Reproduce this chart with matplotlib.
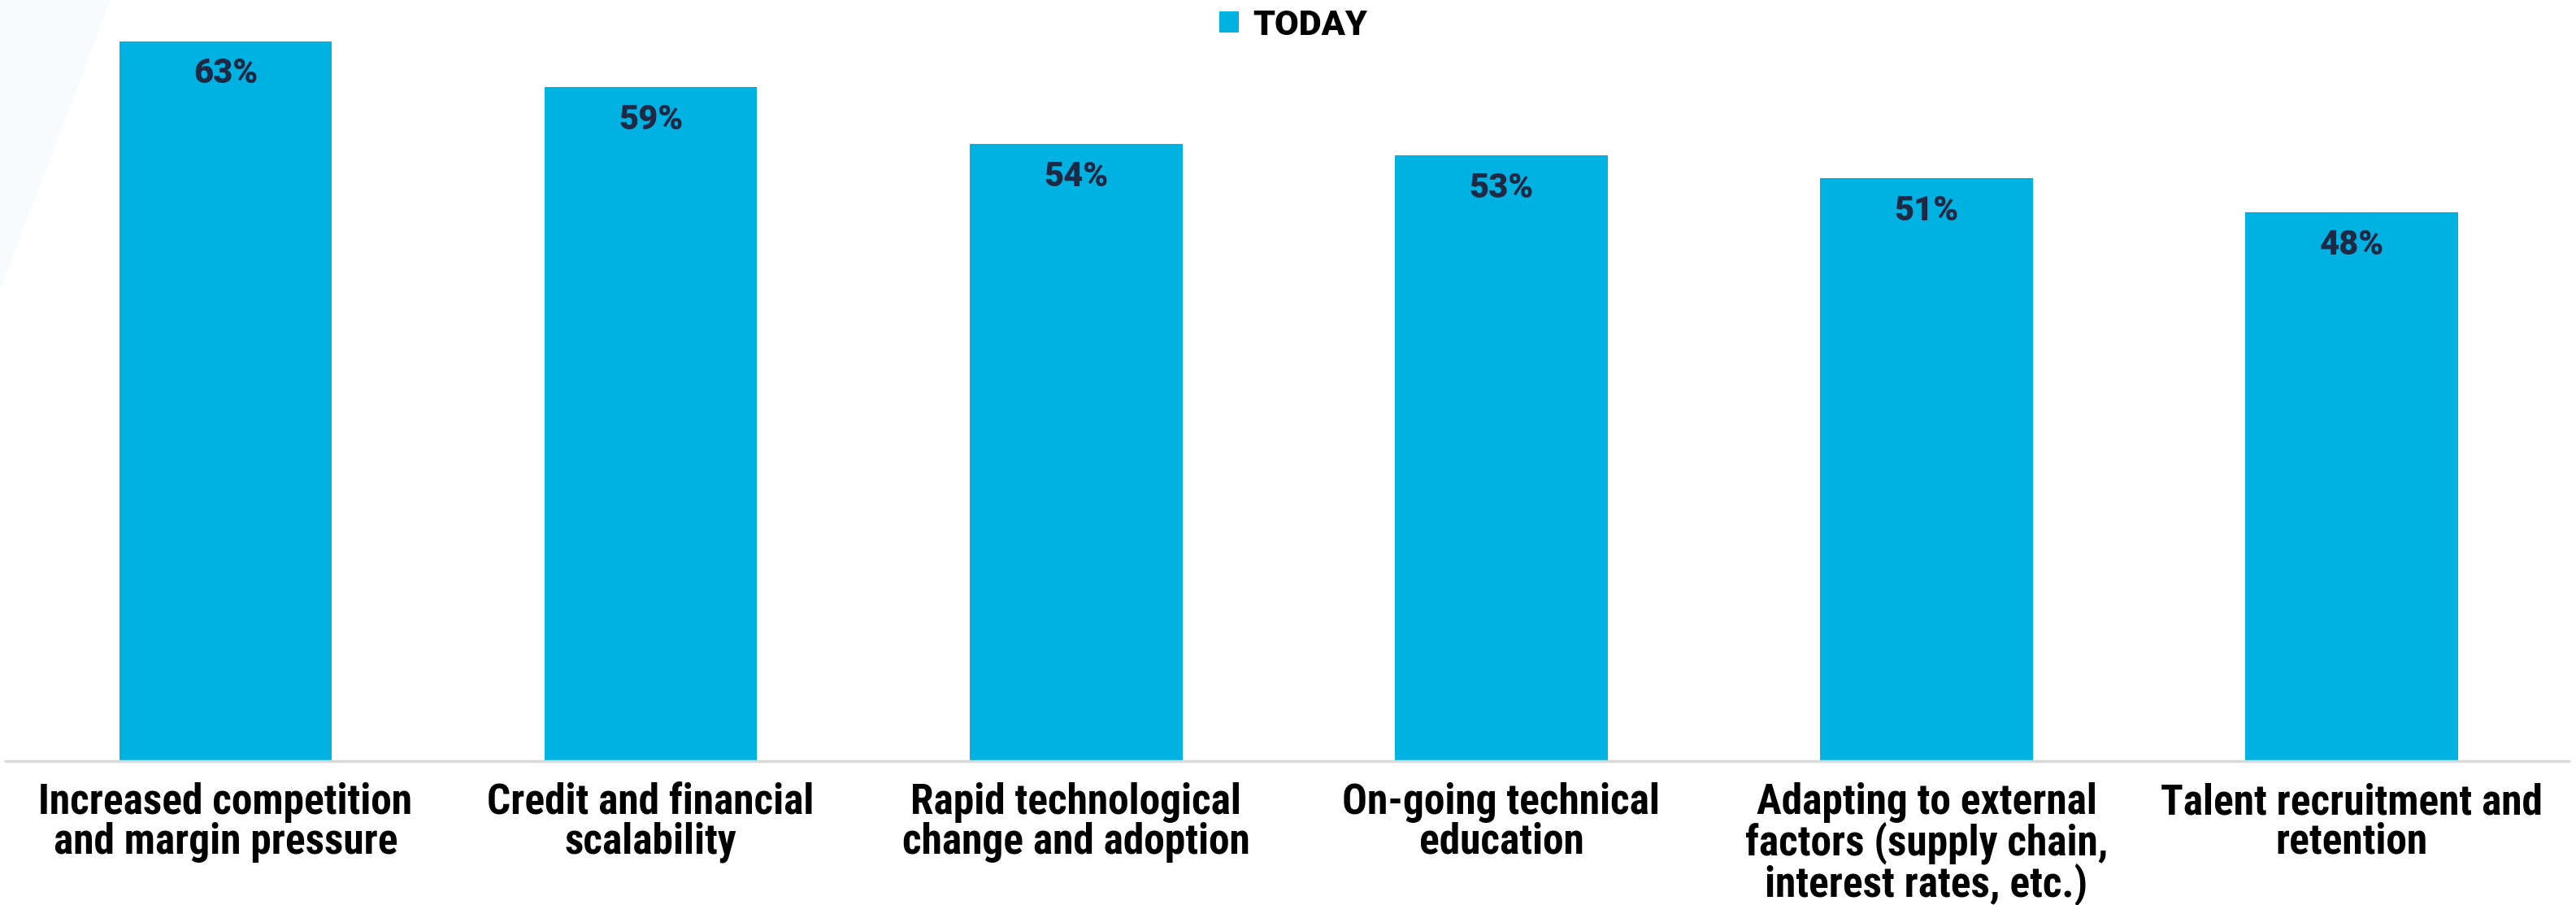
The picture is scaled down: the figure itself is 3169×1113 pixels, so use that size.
import matplotlib
matplotlib.use("Agg")
import matplotlib.pyplot as plt
from matplotlib.patches import Patch, Polygon

# data
categories = [
    "Increased competition\nand margin pressure",
    "Credit and financial\nscalability",
    "Rapid technological\nchange and adoption",
    "On-going technical\neducation",
    "Adapting to external\nfactors (supply chain,\ninterest rates, etc.)",
    "Talent recruitment and\nretention",
]
today = [63, 59, 54, 53, 51, 48]
series_name = "TODAY"

bar_color = "#00b2e2"
value_color = "#1e2a45"

fig = plt.figure(figsize=(31.69, 11.13), dpi=100)
fig.patch.set_facecolor("white")

# faint decorative wedge top-left
fig.patches.append(Polygon([(0, 1), (0.043, 1), (0, 0.68)], closed=True,
                           transform=fig.transFigure, facecolor="#f8fbfd",
                           edgecolor="none", zorder=0))

ax = fig.add_axes([7 / 3169, 0.159, (3160 - 7) / 3169, 0.841])
ax.set_facecolor("none")

x = range(len(categories))
bars = ax.bar(x, today, width=0.5, color=bar_color, zorder=2)

for b, v in zip(bars, today):
    ax.annotate(f"{v}%", (b.get_x() + b.get_width() / 2, v),
                xytext=(0, -29), textcoords="offset points",
                ha="center", va="center", fontsize=30, fontweight=900,
                color=value_color, family=["Roboto", "DejaVu Sans"])

ax.set_xlim(-0.517, 5.51)
ax.set_ylim(0, 66.6)
ax.set_xticks(list(x))
ax.set_xticklabels(categories, fontsize=37, fontweight=900,
                   family=["Roboto Condensed", "DejaVu Sans"],
                   linespacing=0.96, va="top")
ax.tick_params(axis="x", length=0, pad=19)
ax.set_yticks([])
for side in ["top", "left", "right"]:
    ax.spines[side].set_visible(False)
ax.spines["bottom"].set_color("#d9d9d9")
ax.spines["bottom"].set_linewidth(2.5)

handle = Patch(facecolor=bar_color, edgecolor="none")
leg = fig.legend([handle], [series_name], loc="center", bbox_to_anchor=(0.502, 0.972),
                 frameon=False, handlelength=0.55, handleheight=0.55,
                 handletextpad=0.4, prop={"size": 31, "weight": 900,
                                          "family": ["Roboto", "DejaVu Sans"]})

fig.savefig("out.png", dpi=100)
